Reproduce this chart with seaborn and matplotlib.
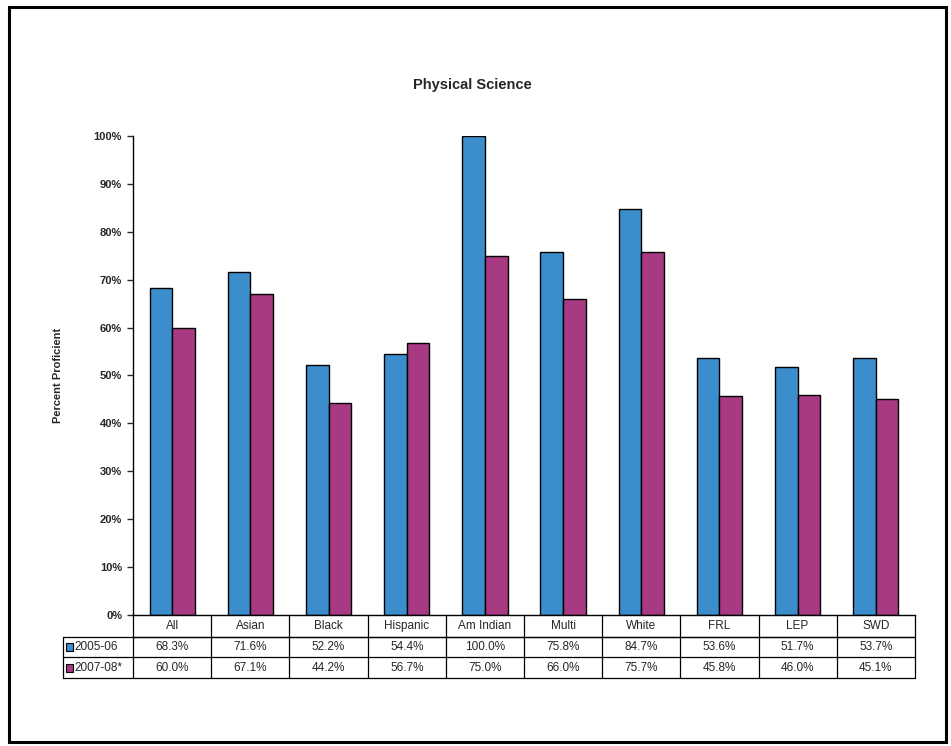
import pandas as pd
import matplotlib.pyplot as plt
import matplotlib.transforms as mtransforms
from matplotlib.patches import Rectangle
from matplotlib.ticker import PercentFormatter
import seaborn as sns

# values
categories = ['All', 'Asian', 'Black', 'Hispanic', 'Am Indian', 'Multi', 'White', 'FRL', 'LEP', 'SWD']
years = ['2005-06', '2007-08*']
pct_2005 = [68.3, 71.6, 52.2, 54.4, 100.0, 75.8, 84.7, 53.6, 51.7, 53.7]
pct_2008 = [60.0, 67.1, 44.2, 56.7, 75.0, 66.0, 75.7, 45.8, 46.0, 45.1]

colors = ['#3b8ecb', '#a83a84']

df = pd.concat([
    pd.DataFrame({'group': categories, 'year': years[0], 'pct': pct_2005}),
    pd.DataFrame({'group': categories, 'year': years[1], 'pct': pct_2008}),
])

sns.set_style('white')
plt.rcParams['font.family'] = ['Liberation Sans', 'DejaVu Sans']

fig = plt.figure(figsize=(9.51, 7.46), dpi=100)
ax = fig.add_axes([0.140, 0.1756, 0.822, 0.6421])

sns.barplot(data=df, x='group', y='pct', hue='year', order=categories, hue_order=years,
            palette=colors, saturation=1, width=0.58, edgecolor='black', linewidth=1.0,
            ax=ax, legend=False)

ax.set_xlim(-0.5, len(categories) - 0.5)
ax.set_ylim(0, 100)
ax.set_yticks(range(0, 101, 10))
ax.yaxis.set_major_formatter(PercentFormatter(decimals=0))
ax.tick_params(axis='y', left=True, length=4, width=1, direction='out', labelsize=8, pad=4)
for lbl in ax.get_yticklabels():
    lbl.set_fontweight('bold')
ax.set_xticks([])
ax.set_xlabel('')
ax.set_ylabel('Percent Proficient', fontsize=8, fontweight='bold', labelpad=22)
for side in ['top', 'right']:
    ax.spines[side].set_visible(False)
for side in ['left', 'bottom']:
    ax.spines[side].set_color('black')
    ax.spines[side].set_linewidth(1.0)

fig.text(472 / 951, 1 - 85 / 746, 'Physical Science', ha='center', va='center',
         fontsize=10.5, fontweight='bold')

# data table under the plot: x in data units, y in axes fraction
trans = mtransforms.blended_transform_factory(ax.transData, ax.transAxes)
n = len(categories)
x_left, x_right = -0.5, n - 0.5
x_leg = -1.395
y_head, y_r1, y_r2 = -0.046, -0.088, -0.132
line_kw = dict(color='black', linewidth=0.9, transform=trans, clip_on=False)

ax.plot([x_left, x_right], [y_head, y_head], **line_kw)
ax.plot([x_leg, x_right], [y_head, y_head], **line_kw)
ax.plot([x_leg, x_right], [y_r1, y_r1], **line_kw)
ax.plot([x_leg, x_right], [y_r2, y_r2], **line_kw)
ax.plot([x_leg, x_leg], [y_head, y_r2], **line_kw)
for i in range(n + 1):
    ax.plot([i - 0.5, i - 0.5], [0, y_r2], **line_kw)

for i, cat in enumerate(categories):
    ax.text(i, (0 + y_head) / 2, cat, transform=trans, ha='center', va='center', fontsize=8.5)
    ax.text(i, (y_head + y_r1) / 2, f'{pct_2005[i]:.1f}%', transform=trans,
            ha='center', va='center', fontsize=8.5)
    ax.text(i, (y_r1 + y_r2) / 2, f'{pct_2008[i]:.1f}%', transform=trans,
            ha='center', va='center', fontsize=8.5)

# legend keys inside the row label cells
for yr, col, (top, bot) in zip(years, colors, [(y_head, y_r1), (y_r1, y_r2)]):
    mid = (top + bot) / 2
    ax.add_patch(Rectangle((x_leg + 0.04, mid - 0.008), 0.085, 0.016, transform=trans,
                           facecolor=col, edgecolor='black', linewidth=0.8, clip_on=False))
    ax.text(x_leg + 0.14, mid, yr, transform=trans, ha='left', va='center', fontsize=8.5)

# outer frame around the whole chart
fig.patches.append(Rectangle((0.009, 0.006), 0.986, 0.985, transform=fig.transFigure,
                             fill=False, edgecolor='black', linewidth=2.2))

fig.savefig('out.png', dpi=100, facecolor='white')
